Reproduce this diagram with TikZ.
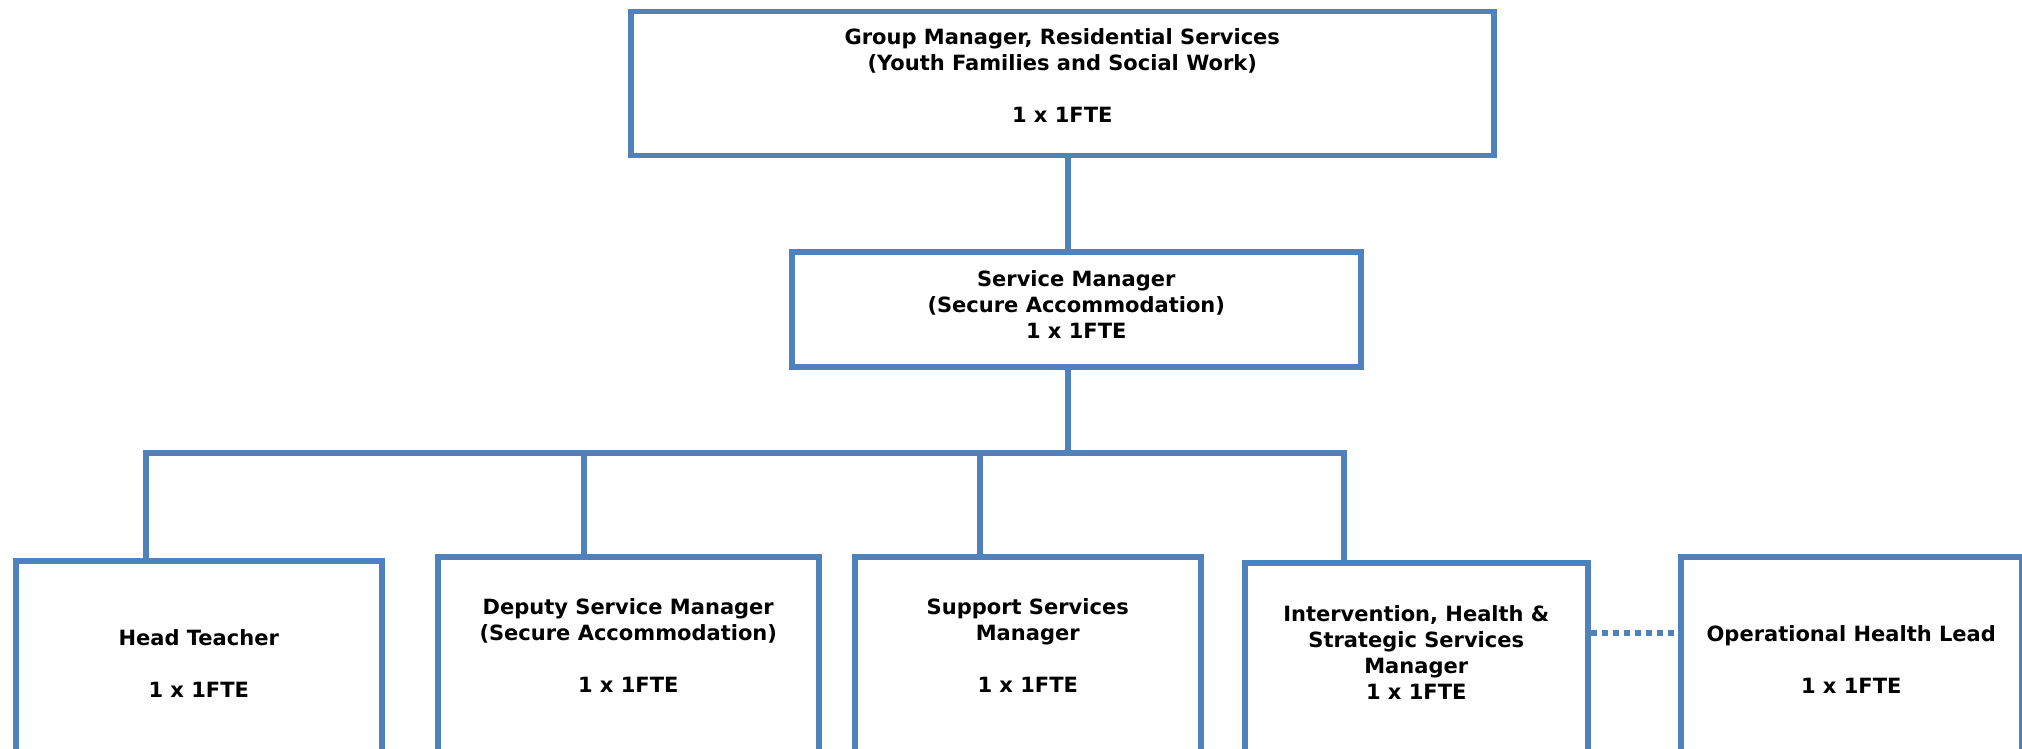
\documentclass[tikz,border=0pt]{standalone}
\usepackage{fontspec}
\newfontfamily\orgfont{DejaVu Sans}
\definecolor{orgblue}{HTML}{4F81BD}
\newcommand\orgcell[4]{\parbox[c][#2][t]{#1}{\centering\vspace*{#3}\strut #4}}
\tikzset{
  orgbox/.style={draw=orgblue, line width=5.5pt, fill=white, inner sep=0pt, anchor=north west,
    font=\orgfont\bfseries\fontsize{21}{26}\selectfont},
  orgline/.style={draw=orgblue, line width=5.5pt},
  orgdot/.style={draw=orgblue, line width=5.5pt, dash pattern=on 6pt off 5pt}
}
\begin{document}
\begin{tikzpicture}[x=1pt,y=-1pt]
\clip (0,0) rectangle (2022,749);
\fill[white] (0,0) rectangle (2022,749);
% coordinates
\coordinate (spine) at (1068,0);
\coordinate (bus) at (0,453);
\coordinate (busL) at (146,453);
\coordinate (busR) at (1344,453);
\coordinate (d1) at (146,0);
\coordinate (d2) at (584,0);
\coordinate (d3) at (980,0);
\coordinate (d4) at (1344,0);
\coordinate (dot) at (0,633);
% boxes
\node[orgbox, minimum width=863pt, minimum height=144pt] (gm) at (628,9)
  {\orgcell{863pt}{144pt}{14.5pt}{Group Manager, Residential Services\\(Youth Families and Social Work)\\[26pt]1 x 1FTE}};
\node[orgbox, minimum width=569pt, minimum height=115pt] (sm) at (789,249)
  {\orgcell{569pt}{115pt}{16.5pt}{Service Manager\\(Secure Accommodation)\\1 x 1FTE}};
\node[orgbox, minimum width=366pt, minimum height=260pt] (ht) at (13,558)
  {\orgcell{366pt}{260pt}{66.5pt}{Head Teacher\\[26pt]1 x 1FTE}};
\node[orgbox, minimum width=381pt, minimum height=260pt] (dsm) at (435,554)
  {\orgcell{381pt}{260pt}{39.5pt}{Deputy Service Manager\\(Secure Accommodation)\\[26pt]1 x 1FTE}};
\node[orgbox, minimum width=346pt, minimum height=260pt] (ssm) at (852,554)
  {\orgcell{346pt}{260pt}{39.5pt}{Support Services\\Manager\\[26pt]1 x 1FTE}};
\node[orgbox, minimum width=343pt, minimum height=260pt] (ihs) at (1242,560)
  {\orgcell{343pt}{260pt}{40.5pt}{Intervention, Health \&\\Strategic Services\\Manager\\1 x 1FTE}};
\node[orgbox, minimum width=341pt, minimum height=260pt] (ohl) at (1678,554)
  {\orgcell{341pt}{260pt}{66.5pt}{Operational Health Lead\\[26pt]1 x 1FTE}};
% connectors
\draw[orgline] (gm.south -| spine) -- (sm.north -| spine);
\draw[orgline] (sm.south -| spine) -- (bus -| spine);
\draw[orgline, line cap=rect] (busL) -- (busR);
\draw[orgline] (busL) -- (ht.north -| d1);
\draw[orgline] (bus -| d2) -- (dsm.north -| d2);
\draw[orgline] (bus -| d3) -- (ssm.north -| d3);
\draw[orgline] (busR) -- (ihs.north -| d4);
\draw[orgdot] (ihs.east |- dot) -- (ohl.west |- dot);
\end{tikzpicture}
\end{document}
